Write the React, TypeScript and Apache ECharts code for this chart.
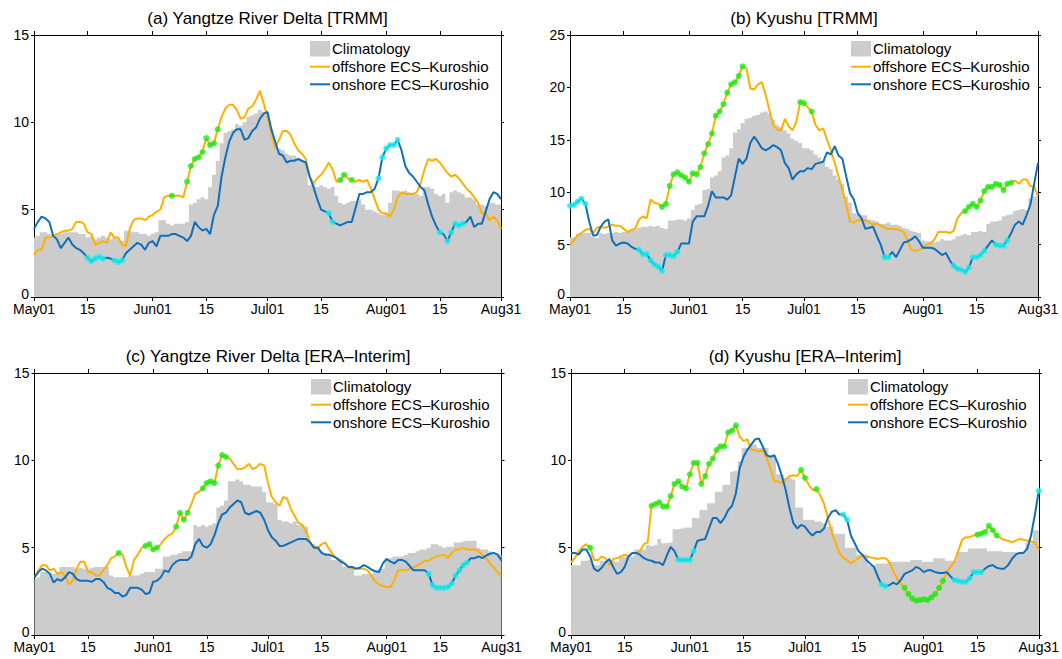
import React, { useEffect, useRef } from "react";
import * as echarts from "echarts";

// ---------- categories / ticks ----------
const dayLabels: string[] = Array.from({ length: 123 }, (_, i) => {
  const d = new Date(2001, 4, 1 + i);
  return `${d.getMonth() + 1}-${d.getDate()}`;
});
const tickDays = [0, 14, 31, 45, 61, 75, 92, 106, 122];
const tickLabels = ["May01", "15", "Jun01", "15", "Jul01", "15", "Aug01", "15", "Aug31"];

// ---------- (a) Yangtze River Delta [TRMM] ----------
const climA = [
  3.4, 3.5, 3.7, 3.7, 3.6, 3.5, 3.6, 3.6, 3.7, 3.7,
  3.7, 3.7, 3.6, 3.6, 3.4, 3.5, 3.3, 3.4, 3.5, 3.4,
  3.3, 3.4, 3.3, 3.2, 3.8, 3.8, 3.7, 3.7, 3.6, 3.6,
  3.5, 3.6, 3.7, 4.4, 4.4, 4.2, 4.1, 4.2, 4.2, 4.2,
  4.3, 5.3, 5.4, 5.6, 5.7, 5.6, 6.3, 7.0, 7.8, 8.8,
  9.4, 9.5, 9.6, 9.9, 9.8, 10.0, 10.3, 10.4, 10.5, 10.7,
  10.6, 10.4, 9.6, 8.6, 8.5, 8.4, 8.2, 8.1, 8.1, 7.9,
  7.8, 7.7, 6.4, 6.5, 6.3, 6.4, 6.3, 6.2, 6.3, 5.8,
  5.4, 5.3, 5.4, 5.5, 5.5, 5.6, 5.3, 5.0, 5.0, 4.9,
  4.8, 4.7, 4.8, 5.4, 6.1, 6.1, 6.0, 6.1, 6.0, 5.9,
  5.9, 5.8, 6.3, 6.3, 6.2, 5.9, 5.8, 5.9, 5.4, 6.0,
  6.1, 6.0, 5.9, 5.7, 5.7, 5.6, 5.3, 5.3, 5.2, 5.4,
  5.4, 5.3, 5.3,
];
const offA = [
  2.4, 2.7, 2.7, 3.4, 3.4, 3.5, 3.6, 3.7, 3.8, 3.8,
  3.9, 4.3, 4.3, 4.2, 3.7, 3.6, 3.0, 3.1, 3.2, 3.1,
  3.7, 3.4, 3.4, 3.0, 2.9, 3.9, 4.4, 4.5, 4.5, 4.4,
  4.6, 4.7, 4.9, 5.0, 5.7, 5.8, 5.8, 5.8, 5.8, 5.7,
  6.6, 7.5, 7.9, 8.0, 8.3, 9.1, 8.7, 8.8, 9.6, 10.3,
  10.8, 11.0, 11.0, 10.7, 10.2, 10.3, 10.8, 10.9, 11.3, 11.8,
  11.1, 10.3, 9.4, 8.5, 9.0, 9.5, 9.5, 9.3, 8.8, 8.4,
  8.2, 7.9, 6.9, 6.5, 6.8, 7.0, 7.3, 7.7, 7.3, 6.6,
  6.7, 7.0, 6.8, 6.7, 6.6, 6.7, 6.6, 6.7, 6.2, 5.6,
  5.0, 4.8, 4.8, 4.6, 5.0, 5.7, 6.0, 5.9, 5.9, 5.9,
  6.0, 6.5, 7.3, 7.9, 7.8, 7.9, 7.7, 7.4, 7.1, 6.9,
  7.0, 6.8, 6.5, 6.2, 6.0, 5.7, 5.4, 4.8, 4.8, 4.4,
  4.6, 4.4, 3.9,
];
const onA = [
  3.9, 4.3, 4.6, 4.5, 4.3, 3.5, 3.3, 2.8, 3.1, 3.4,
  3.0, 2.8, 2.7, 2.5, 2.25, 2.05, 2.2, 2.3, 2.2, 2.25,
  2.2, 2.1, 2.0, 2.1, 2.5, 2.7, 2.9, 3.1, 3.0, 2.7,
  3.1, 3.2, 2.9, 3.5, 3.5, 3.5, 3.6, 3.6, 3.5, 3.4,
  3.2, 3.5, 4.3, 4.0, 3.8, 3.9, 3.6, 4.7, 5.2, 6.9,
  8.0, 8.9, 9.4, 9.6, 9.6, 9.0, 9.1, 9.5, 9.7, 10.2,
  10.5, 10.6, 9.6, 8.9, 8.2, 8.1, 7.7, 7.8, 7.8, 7.9,
  7.8, 7.7, 6.9, 6.3, 5.6, 5.0, 4.9, 4.8, 4.3, 4.2,
  4.1, 4.2, 4.3, 4.3, 5.1, 5.9, 5.9, 6.0, 6.0, 6.2,
  6.8, 8.0, 8.5, 8.7, 8.7, 9.0, 8.4, 7.5, 7.1, 6.9,
  6.6, 6.3, 6.1, 5.3, 4.6, 4.1, 3.7, 3.6, 3.2, 3.7,
  4.2, 4.1, 4.2, 4.3, 4.6, 4.0, 4.2, 4.2, 4.9, 5.6,
  6.0, 5.9, 5.6,
];
const sigOffA = [36, 40, 41, 42, 43, 44, 45, 46, 47, 48, 80, 81, 83];
const sigOnA = [14, 15, 16, 17, 18, 21, 22, 23, 77, 78, 90, 91, 92, 93, 94, 95, 106, 108, 109, 110, 111, 112];

// ---------- (b) Kyushu [TRMM] ----------
const climB = [
  5.7, 5.7, 6.0, 6.0, 6.1, 6.1, 5.8, 5.6, 6.1, 6.0,
  6.1, 6.1, 6.2, 6.1, 6.2, 6.2, 6.4, 6.4, 6.6, 6.7,
  6.7, 6.8, 6.7, 6.8, 6.6, 6.5, 7.3, 7.3, 7.4, 7.4,
  7.3, 7.5, 8.3, 8.8, 8.9, 10.2, 10.3, 11.4, 11.6, 12.0,
  13.3, 13.5, 14.2, 15.7, 16.0, 16.6, 17.0, 17.1, 17.3, 17.4,
  17.6, 17.7, 17.5, 16.9, 16.4, 16.2, 15.9, 15.6, 15.1, 14.9,
  14.7, 14.2, 14.2, 14.0, 13.6, 13.3, 13.0, 12.4, 12.2, 11.6,
  11.2, 10.8, 9.6, 9.0, 8.0, 7.9, 7.8, 7.8, 7.4, 7.3,
  7.2, 7.0, 7.0, 7.1, 6.9, 6.9, 6.8, 6.6, 6.5, 6.3,
  6.2, 6.1, 5.4, 5.3, 5.3, 5.2, 5.3, 5.5, 5.4, 5.4,
  5.5, 5.8, 5.9, 6.0, 5.9, 6.2, 6.2, 6.3, 6.2, 7.0,
  7.2, 7.2, 7.3, 7.7, 7.8, 7.9, 8.2, 8.3, 8.4, 8.3,
  9.4, 9.6, 9.8,
];
const offB = [
  4.9, 5.4, 5.9, 6.1, 6.4, 6.5, 6.1, 6.6, 6.7, 6.6,
  6.7, 6.9, 6.8, 6.8, 6.5, 6.2, 6.4, 6.5, 7.4, 7.7,
  7.5, 9.3, 9.0, 8.9, 8.6, 8.9, 10.6, 11.7, 11.9, 11.6,
  11.4, 11.0, 11.8, 11.7, 12.4, 13.7, 14.6, 15.6, 17.3, 17.7,
  18.4, 19.5, 20.3, 20.5, 21.1, 22.0, 21.8, 19.9, 19.8, 20.3,
  20.5, 19.3, 17.8, 16.4, 16.0, 15.9, 17.0, 16.3, 15.9, 16.7,
  18.6, 18.5, 18.1, 17.7, 16.4, 15.9, 16.1, 15.0, 14.0, 12.8,
  11.5, 10.2, 8.8, 7.2, 7.1, 7.3, 7.4, 7.3, 7.1, 6.9,
  7.0, 6.8, 6.6, 6.5, 6.5, 6.5, 6.4, 6.2, 5.4, 4.5,
  4.4, 4.5, 4.7, 5.0, 5.1, 5.5, 6.2, 6.2, 6.2, 6.1,
  6.3, 7.5, 8.0, 8.2, 8.6, 8.9, 8.6, 9.2, 10.1, 10.5,
  10.5, 10.8, 10.7, 10.2, 10.8, 10.9, 11.1, 10.8, 11.2, 11.2,
  10.6, 10.5, 9.7,
];
const onB = [
  8.7, 8.8, 9.1, 9.4, 8.9, 7.2, 5.9, 5.9, 6.7, 7.2,
  7.4, 5.4, 4.9, 5.1, 5.2, 5.1, 4.8, 4.6, 4.5, 4.1,
  4.1, 3.5, 3.1, 2.9, 2.5, 4.0, 4.0, 3.9, 4.3, 5.1,
  5.1, 5.1, 7.2, 7.7, 7.7, 7.7, 8.7, 10.1, 9.5, 9.5,
  9.5, 9.3, 9.7, 11.5, 13.2, 12.7, 13.2, 14.7, 15.3, 14.8,
  14.2, 14.0, 14.2, 14.5, 14.3, 14.0, 12.8, 12.3, 11.2, 11.7,
  12.0, 12.0, 12.3, 12.2, 12.7, 12.8, 12.9, 13.8, 13.6, 14.4,
  13.5, 13.2, 11.5, 9.9, 9.3, 8.0, 7.5, 6.5, 6.6, 6.7,
  5.8, 5.0, 3.8, 3.8, 4.3, 3.8, 4.5, 5.2, 5.3, 5.5,
  5.8, 5.3, 4.7, 4.7, 4.7, 4.6, 4.3, 4.0, 4.2, 3.5,
  3.0, 2.7, 2.6, 2.4, 2.8, 3.8, 3.8, 4.0, 4.4, 4.9,
  5.4, 5.0, 4.9, 4.9, 5.4, 6.1, 6.9, 7.2, 6.9, 7.8,
  8.8, 10.8, 12.8,
];
const sigOffB = [
  24, 25, 26, 27, 28, 29, 30, 31, 32, 33, 34, 35, 36, 37, 38, 39, 40, 41, 42, 43, 44, 45,
  60, 61, 63, 103, 104, 105, 106, 107, 108, 109, 110, 111, 112, 113, 114, 115,
];
const sigOnB = [
  0, 1, 2, 3, 4, 18, 19, 20, 21, 22, 23, 24, 25, 26, 27, 28, 82, 83,
  100, 101, 102, 103, 104, 105, 106, 107, 108, 111, 112, 113, 114,
];

// ---------- (c) Yangtze River Delta [ERA-Interim] ----------
const climC = [
  3.2, 3.3, 3.6, 3.6, 3.6, 3.5, 3.6, 3.9, 3.9, 3.9,
  3.9, 3.8, 3.85, 3.8, 3.8, 3.85, 3.9, 3.9, 3.9, 3.9,
  3.4, 3.3, 3.3, 3.3, 3.3, 3.4, 3.4, 3.4, 3.5, 3.6,
  3.6, 3.6, 3.8, 3.8, 4.5, 4.5, 4.6, 4.6, 4.7, 4.8,
  4.8, 4.8, 6.3, 6.2, 6.3, 6.2, 6.3, 6.4, 7.3, 7.4,
  7.7, 8.8, 8.8, 8.9, 8.8, 8.6, 8.6, 8.5, 8.5, 8.5,
  8.2, 7.6, 7.6, 7.5, 6.6, 6.5, 6.5, 6.4, 6.5, 6.3,
  6.3, 6.2, 5.3, 5.2, 5.1, 4.8, 4.7, 4.6, 4.3, 4.3,
  4.2, 3.9, 3.9, 3.8, 3.4, 3.4, 3.5, 3.5, 3.5, 3.6,
  3.8, 3.8, 4.4, 4.4, 4.5, 4.5, 4.5, 4.6, 4.7, 4.7,
  4.8, 4.9, 4.9, 5.0, 5.2, 5.2, 5.1, 5.0, 5.05, 5.05,
  5.3, 5.3, 5.35, 5.4, 5.4, 5.4, 5.0, 4.9, 4.9, 4.8,
  4.6, 4.6, 4.6,
];
const offC = [
  3.3, 3.7, 4.0, 4.0, 3.7, 3.8, 3.5, 3.6, 3.4, 2.9,
  3.1, 3.8, 4.2, 4.2, 3.6, 3.6, 3.4, 3.4, 3.7, 4.0,
  4.4, 4.5, 4.7, 4.6, 3.9, 3.4, 4.3, 4.6, 5.0, 5.1,
  5.2, 4.9, 5.0, 5.2, 5.5, 5.7, 5.8, 6.2, 7.0, 6.6,
  7.0, 7.5, 8.1, 8.2, 8.4, 8.7, 8.8, 8.7, 9.7, 10.3,
  10.2, 10.1, 9.8, 9.5, 9.5, 9.6, 9.8, 9.5, 9.6, 9.8,
  9.7, 8.7, 7.9, 7.6, 7.4, 7.9, 7.8, 7.2, 6.8, 6.4,
  6.3, 5.9, 5.3, 5.0, 5.0, 5.2, 5.3, 4.9, 4.6, 4.35,
  4.3, 4.1, 3.9, 3.8, 3.8, 3.8, 3.8, 3.7, 3.4, 3.05,
  2.9, 2.8, 2.75, 2.75, 3.15, 3.7, 3.7, 3.7, 3.8, 3.85,
  4.0, 4.1, 4.25, 4.25, 4.4, 4.5, 4.55, 4.6, 4.4, 4.7,
  4.9, 4.9, 5.0, 4.9, 4.9, 4.9, 4.8, 4.6, 4.4, 4.1,
  3.85, 3.6, 3.35,
];
const onC = [
  3.3, 3.6, 3.8, 3.7, 3.5, 3.0, 3.2, 3.1, 3.3, 3.6,
  3.5, 3.2, 3.1, 3.1, 3.1, 3.05, 3.2, 3.2, 3.05, 2.7,
  2.6, 2.4, 2.4, 2.2, 2.3, 2.7, 2.7, 2.7, 2.6, 2.35,
  2.4, 3.05, 3.1, 3.3, 3.7, 3.6, 4.0, 4.2, 4.3, 4.3,
  4.3, 4.5, 5.2, 5.5, 5.1, 5.0, 5.2, 5.7, 6.4, 6.9,
  7.0, 7.3, 7.5, 7.7, 7.6, 7.0, 6.9, 7.0, 7.1, 7.0,
  6.6, 6.0, 5.6, 5.4, 5.1, 5.1, 5.2, 5.3, 5.4, 5.5,
  5.5, 5.5, 5.3, 5.0, 5.0, 4.7, 4.6, 4.6, 4.5, 4.4,
  4.2, 4.1, 3.9, 3.9, 3.8, 3.85, 4.0, 3.9, 3.75, 3.65,
  3.6, 4.1, 4.35, 4.2, 4.1, 4.3, 4.3, 4.2, 3.95, 3.7,
  3.7, 3.7, 3.7, 3.5, 2.85, 2.7, 2.7, 2.7, 2.75, 2.95,
  3.4, 3.7, 4.0, 4.15, 4.4, 4.4, 4.5, 4.4, 4.55, 4.65,
  4.7, 4.6, 4.25,
];
const sigOffC = [22, 29, 30, 31, 32, 37, 38, 39, 40, 44, 45, 46, 47, 48, 49, 50];
const sigOnC = [103, 104, 105, 106, 107, 108, 109, 110, 111, 112, 113];

// ---------- (d) Kyushu [ERA-Interim] ----------
const climD = [
  4.0, 4.0, 4.0, 4.25, 4.25, 4.3, 4.0, 4.0, 4.25, 4.25,
  4.3, 4.25, 4.2, 4.5, 4.5, 4.5, 4.5, 4.9, 4.9, 4.9,
  5.15, 5.1, 5.15, 5.5, 5.25, 5.25, 5.3, 6.05, 6.05, 6.1,
  6.15, 6.15, 6.7, 6.7, 7.15, 7.15, 7.55, 7.55, 8.2, 8.2,
  8.6, 8.6, 9.35, 9.4, 9.95, 10.7, 10.7, 10.9, 10.9, 10.7,
  10.7, 10.7, 10.3, 10.3, 9.2, 9.2, 9.0, 9.0, 8.9, 7.3,
  7.3, 6.6, 6.6, 6.6, 6.5, 6.5, 6.4, 6.2, 6.2, 5.8,
  5.8, 5.8, 5.0, 5.0, 5.0, 4.6, 4.6, 4.6, 4.0, 4.0,
  4.1, 4.1, 4.1, 4.2, 4.2, 4.2, 4.2, 4.2, 4.2, 4.3,
  4.3, 4.3, 4.2, 4.2, 4.2, 4.4, 4.4, 4.4, 4.25, 4.25,
  4.25, 4.75, 4.75, 4.75, 4.95, 4.95, 4.95, 4.95, 4.95, 4.8,
  4.8, 4.8, 4.8, 4.75, 4.75, 4.75, 4.75, 4.75, 4.75, 5.25,
  5.25, 6.0, 6.0,
];
const offD = [
  4.15, 4.4, 4.8, 5.05, 5.2, 5.0, 4.3, 4.3, 4.5, 4.4,
  4.0, 4.35, 4.4, 4.5, 4.6, 4.5, 4.7, 4.7, 4.8, 5.2,
  5.3, 7.4, 7.5, 7.6, 7.35, 7.35, 7.95, 8.65, 8.8, 8.5,
  8.4, 9.2, 9.85, 9.85, 8.65, 9.1, 9.8, 10.1, 10.6, 10.8,
  10.8, 11.6, 11.7, 12.0, 11.35, 11.1, 11.2, 10.6, 10.6, 10.5,
  10.6, 10.15, 9.55, 8.8, 8.8, 8.7, 8.9, 9.1, 9.15, 9.1,
  9.45, 9.0, 8.6, 8.3, 8.35, 8.0, 7.5, 6.7, 5.9, 5.25,
  4.7, 4.4, 4.3, 4.1, 4.25, 4.4, 4.55, 4.5, 4.45, 4.4,
  4.35, 4.4, 4.4, 4.2, 3.7, 3.25, 2.95, 2.7, 2.35, 2.1,
  1.97, 2.0, 2.05, 2.0, 2.15, 2.35, 2.7, 3.1, 3.6, 3.9,
  4.2, 4.8, 5.45, 5.6, 5.6, 5.7, 5.75, 5.8, 5.9, 6.25,
  6.0, 5.7, 5.55, 5.45, 5.4, 5.3, 5.4, 5.5, 5.45, 5.4,
  5.35, 5.3, 4.85,
];
const onD = [
  4.7, 4.7, 4.6, 4.9, 4.9, 4.5, 3.8, 3.65, 3.85, 4.15,
  4.35, 3.9, 3.5, 3.6, 3.9, 4.5, 4.7, 4.7, 4.6, 4.4,
  4.3, 4.25, 4.15, 4.15, 4.0, 4.55, 5.05, 4.8, 4.3, 4.3,
  4.3, 4.3, 4.8, 5.4, 5.45, 5.5, 6.1, 6.7, 6.7, 6.4,
  6.7, 7.15, 7.4, 8.1, 9.55, 10.2, 10.6, 10.9, 11.2, 11.25,
  10.8, 10.3, 10.2, 10.3, 9.8, 9.1, 8.3, 7.25, 6.4, 6.1,
  6.3, 6.2, 5.9, 5.7, 5.9, 5.9, 6.1, 6.7, 7.05, 7.15,
  6.9, 6.9, 6.6, 5.7, 5.25, 4.8, 4.6, 4.3, 4.1, 3.9,
  3.35, 2.9, 2.8, 2.85, 3.0, 2.9, 3.15, 3.5, 3.6, 3.7,
  3.9, 3.8, 3.6, 3.7, 3.7, 3.6, 3.55, 3.55, 3.6, 3.35,
  3.15, 3.1, 3.05, 3.05, 3.25, 3.6, 3.6, 3.6, 3.8, 3.95,
  4.0, 3.85, 3.8, 3.8, 4.0, 4.35, 4.6, 4.7, 4.7, 4.95,
  5.7, 6.9, 8.25,
];
const sigOffD = [
  5, 21, 22, 23, 24, 25, 26, 27, 28, 29, 30, 31, 32, 33, 34, 35, 36, 37, 38, 39, 40, 41, 42, 43,
  60, 61, 64, 87, 88, 89, 90, 91, 92, 93, 94, 95, 96, 97, 106, 107, 108, 109, 110, 111,
];
const sigOnD = [28, 29, 30, 31, 32, 71, 72, 81, 82, 100, 101, 102, 103, 104, 105, 106, 107, 122];

// ---------- styling ----------
const FONT = '"Liberation Sans", Arial, Helvetica, sans-serif';
const CLIM_COLOR = "#cccccc";
const OFF_COLOR = "#ffb000";
const ON_COLOR = "#0e6fbd";
const SIG_OFF_COLOR = "#14ec14";
const SIG_ON_COLOR = "#14eeee";

const panels = [
  {
    title: "(a) Yangtze River Delta [TRMM]",
    clim: climA, off: offA, on: onA, sigOff: sigOffA, sigOn: sigOnA, ymax: 15,
    grid: { left: 34, top: 35, width: 467, height: 262 },
    legend: { x: 310, y: 41 },
  },
  {
    title: "(b) Kyushu [TRMM]",
    clim: climB, off: offB, on: onB, sigOff: sigOffB, sigOn: sigOnB, ymax: 25,
    grid: { left: 570, top: 35, width: 468, height: 262 },
    legend: { x: 851, y: 41 },
  },
  {
    title: "(c) Yangtze River Delta [ERA\u2013Interim]",
    clim: climC, off: offC, on: onC, sigOff: sigOffC, sigOn: sigOnC, ymax: 15,
    grid: { left: 34.5, top: 373, width: 467, height: 262 },
    legend: { x: 311, y: 379 },
  },
  {
    title: "(d) Kyushu [ERA\u2013Interim]",
    clim: climD, off: offD, on: onD, sigOff: sigOffD, sigOn: sigOnD, ymax: 15,
    grid: { left: 571, top: 373, width: 468, height: 262 },
    legend: { x: 848, y: 379 },
  },
];

const tickSet = new Set(tickDays);
const isTick = (idx: number) => tickSet.has(idx);
const tickLabel = (_v: string, idx: number) => {
  const k = tickDays.indexOf(idx);
  return k >= 0 ? tickLabels[k] : "";
};
// the "0" label sits a little higher so it clears the date label below it
const yLabel = (v: number) => (v === 0 ? "{zero|0}" : String(v));

function buildOption() {
  const grid: any[] = [];
  const xAxis: any[] = [];
  const yAxis: any[] = [];
  const series: any[] = [];
  const graphic: any[] = [];

  panels.forEach((p, i) => {
    grid.push({ ...p.grid, containLabel: false, show: false });
    const axisLineStyle = { color: "#000", width: 1 };
    ["bottom", "top"].forEach((pos) => {
      xAxis.push({
        type: "category",
        gridIndex: i,
        position: pos,
        data: dayLabels,
        boundaryGap: false,
        axisLine: { show: true, onZero: false, lineStyle: axisLineStyle },
        axisTick: { show: true, interval: isTick, length: 4, inside: false, lineStyle: axisLineStyle },
        axisLabel: {
          show: pos === "bottom",
          interval: isTick,
          formatter: tickLabel,
          fontSize: 14,
          lineHeight: 12,
          fontFamily: FONT,
          color: "#000",
          margin: 6,
        },
        splitLine: { show: false },
      });
    });
    ["left", "right"].forEach((pos) => {
      yAxis.push({
        type: "value",
        gridIndex: i,
        position: pos,
        min: 0,
        max: p.ymax,
        interval: 5,
        axisLine: { show: true, onZero: false, lineStyle: axisLineStyle },
        axisTick: { show: true, length: 3, inside: false, lineStyle: axisLineStyle },
        axisLabel: {
          show: pos === "left",
          formatter: yLabel,
          fontSize: 14,
          lineHeight: 10,
          fontFamily: FONT,
          color: "#000",
          margin: 5,
          rich: {
            zero: { fontSize: 14, fontFamily: FONT, color: "#000", lineHeight: 10, padding: [0, 0, 6, 0] },
          },
        },
        splitLine: { show: false },
      });
    });

    const xi = i * 2;
    const yi = i * 2;
    // climatology histogram: one step per day, filled to zero
    series.push({
      name: "Climatology",
      type: "line",
      step: "middle",
      xAxisIndex: xi,
      yAxisIndex: yi,
      data: p.clim,
      symbol: "none",
      lineStyle: { width: 0, color: CLIM_COLOR },
      areaStyle: { color: CLIM_COLOR, opacity: 1, origin: "start" },
      silent: true,
      z: 1,
    });
    series.push({
      name: "offshore ECS\u2013Kuroshio",
      type: "line",
      xAxisIndex: xi,
      yAxisIndex: yi,
      data: p.off,
      symbol: "none",
      lineStyle: { color: OFF_COLOR, width: 2 },
      silent: true,
      z: 2,
    });
    series.push({
      name: "onshore ECS\u2013Kuroshio",
      type: "line",
      xAxisIndex: xi,
      yAxisIndex: yi,
      data: p.on,
      symbol: "none",
      lineStyle: { color: ON_COLOR, width: 2 },
      silent: true,
      z: 3,
    });
    series.push({
      type: "scatter",
      xAxisIndex: xi,
      yAxisIndex: yi,
      data: p.sigOff.map((d) => [d, p.off[d]]),
      symbol: "circle",
      symbolSize: 6,
      clip: false,
      itemStyle: { color: SIG_OFF_COLOR },
      silent: true,
      z: 4,
    });
    series.push({
      type: "scatter",
      xAxisIndex: xi,
      yAxisIndex: yi,
      data: p.sigOn.map((d) => [d, p.on[d]]),
      symbol: "circle",
      symbolSize: 6,
      clip: false,
      itemStyle: { color: SIG_ON_COLOR },
      silent: true,
      z: 4,
    });

    // title
    graphic.push({
      type: "text",
      x: p.grid.left + p.grid.width / 2,
      y: p.grid.top - 17,
      z: 10,
      style: {
        text: p.title,
        fontSize: 17,
        fontFamily: FONT,
        fill: "#000",
        align: "center",
        verticalAlign: "middle",
      },
    });

    // legend
    const lx = p.legend.x;
    const ly = p.legend.y;
    const rows = [
      { label: "Climatology", kind: "box", color: CLIM_COLOR, dy: 7.8 },
      { label: "offshore ECS\u2013Kuroshio", kind: "line", color: OFF_COLOR, dy: 25.7 },
      { label: "onshore ECS\u2013Kuroshio", kind: "line", color: ON_COLOR, dy: 43.3 },
    ];
    rows.forEach((r) => {
      if (r.kind === "box") {
        graphic.push({
          type: "rect",
          z: 10,
          shape: { x: lx, y: ly, width: 20, height: 15.5 },
          style: { fill: r.color },
        });
      } else {
        graphic.push({
          type: "line",
          z: 10,
          shape: { x1: lx, y1: ly + r.dy, x2: lx + 20, y2: ly + r.dy },
          style: { stroke: r.color, lineWidth: 2 },
        });
      }
      graphic.push({
        type: "text",
        z: 10,
        x: lx + 22,
        y: ly + r.dy,
        style: {
          text: r.label,
          fontSize: 15,
          fontFamily: FONT,
          fill: "#000",
          align: "left",
          verticalAlign: "middle",
        },
      });
    });
  });

  return {
    animation: false,
    backgroundColor: "#ffffff",
    grid,
    xAxis,
    yAxis,
    series,
    graphic,
  };
}

export default function App() {
  const ref = useRef<HTMLDivElement>(null);
  useEffect(() => {
    document.body.style.margin = "0";
    if (!ref.current) return;
    const chart = echarts.init(ref.current, undefined, { renderer: "svg" });
    chart.setOption(buildOption() as any);
    return () => chart.dispose();
  }, []);
  return <div ref={ref} style={{ width: 1062, height: 659, background: "#fff" }} />;
}
